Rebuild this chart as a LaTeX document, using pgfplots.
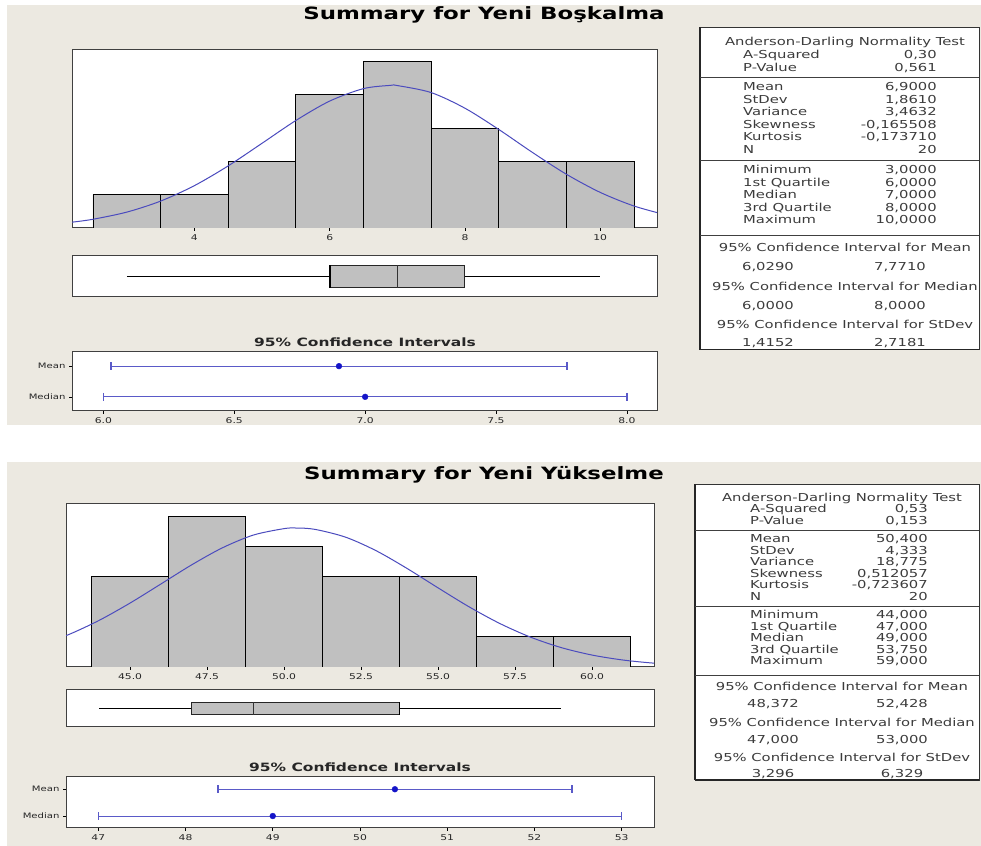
\documentclass[border=0pt]{standalone}
\usepackage{pgfplots}
\pgfplotsset{compat=1.18}
\usepackage{fontspec}
\setmainfont{DejaVu Sans}[FakeStretch=1.35]
\definecolor{bg}{RGB}{236,233,225}
\definecolor{bargray}{RGB}{192,192,192}
\definecolor{curveblue}{RGB}{75,75,190}
\definecolor{ciline}{RGB}{90,90,200}
\definecolor{dotblue}{RGB}{20,20,200}
\definecolor{tabtext}{RGB}{60,60,60}
\pgfplotsset{mtb/.style={scale only axis, axis background/.style={fill=white},
  axis line style={black!75,line width=1bp}, tick align=outside,
  major tick length=3bp, tick style={black,line width=0.6bp},
  /pgf/number format/assume math mode=true,
  tick label style={font=\fontsize{8}{9}\selectfont, text=black!85},
  xtick pos=left, ytick pos=left, clip=true}}
\newcommand\tfont{\fontsize{11}{12}\selectfont\color{tabtext}}
\begin{document}
\begin{tikzpicture}[x=1bp,y=1bp]
\useasboundingbox (0,0) rectangle (981,846);
\fill[white] (0,0) rectangle (981,846);
\fill[bg] (7,421) rectangle (981,841);
\fill[bg] (7,0) rectangle (981,384);
% titles
\node[font=\bfseries\fontsize{17}{20}\selectfont] at (484,831) {Summary for Yeni Boşkalma};
\node[font=\bfseries\fontsize{17}{20}\selectfont] at (484,371) {Summary for Yeni Yükselme};
\node[font=\bfseries\fontsize{11.5}{13}\selectfont, text=black!85] at (365,504) {95\% Confidence Intervals};
\node[font=\bfseries\fontsize{11.5}{13}\selectfont, text=black!85] at (360,79) {95\% Confidence Intervals};

% ---------- TOP PANEL ----------
\begin{axis}[mtb, at={(72bp,618bp)}, anchor=south west, width=585bp, height=178bp,
  xmin=2.19, xmax=10.84, ymin=0, ymax=5.35, ytick=\empty,
  xtick={4,6,8,10}, xticklabels={4,6,8,10}]
\addplot[ybar interval, fill=bargray, draw=black, line width=0.9bp] coordinates {
(2.5,1) (3.5,1) (4.5,2) (5.5,4) (6.5,5) (7.5,3) (8.5,2) (9.5,2) (10.5,2)};
\addplot[smooth, curveblue, line width=1bp] coordinates {
(2.0,0.134) (2.2,0.177) (2.5,0.262) (3.0,0.477) (3.5,0.808) (4.0,1.273) (4.5,1.867)
(5.0,2.546) (5.5,3.231) (6.0,3.814) (6.5,4.189) (6.9,4.287) (7.0,4.281) (7.5,4.070)
(8.0,3.600) (8.5,2.962) (9.0,2.268) (9.5,1.615) (10.0,1.070) (10.5,0.660) (11.0,0.379)};
\end{axis}

\begin{axis}[mtb, at={(72bp,549bp)}, anchor=south west, width=585bp, height=41bp,
  xmin=2.19, xmax=10.84, ymin=0, ymax=1, xtick=\empty, ytick=\empty]
\addplot[black, line width=1.6bp] coordinates {(3,0.5) (6,0.5)};
\addplot[black, line width=1.6bp] coordinates {(8,0.5) (10,0.5)};
\addplot[fill=bargray, draw=black!85, line width=0.9bp] coordinates {(6,0.23) (8,0.23) (8,0.77) (6,0.77) (6,0.23)};
\addplot[black, line width=1.8bp] coordinates {(6,0.23) (6,0.77)};
\addplot[black!80, line width=0.8bp] coordinates {(7,0.23) (7,0.77)};
\end{axis}

\begin{axis}[mtb, at={(72bp,435bp)}, anchor=south west, width=585bp, height=59bp,
  xmin=5.88, xmax=8.115, ymin=0, ymax=1,
  xtick={6,6.5,7,7.5,8}, xticklabels={6.0,6.5,7.0,7.5,8.0},
  ytick={0.24,0.76}, yticklabels={Median,Mean},
  yticklabel style={font=\fontsize{7.5}{8}\selectfont}]
\addplot[ciline, line width=0.9bp, mark=|, mark size=4bp, mark options={line width=1.4bp}] coordinates {(6.029,0.76) (7.771,0.76)};
\addplot[ciline, line width=0.9bp, mark=|, mark size=4bp, mark options={line width=1.4bp}] coordinates {(6.0,0.24) (8.0,0.24)};
\addplot[only marks, mark=*, mark size=2.9bp, dotblue] coordinates {(6.9,0.76) (7.0,0.24)};
\end{axis}

% top table
\draw[black!80, line width=0.8bp, fill=white] (700,496.4) rectangle (979,819);
\draw[black!85, line width=1.6bp] (700,496.4) -- (700,819);
\draw[black!85, line width=1.2bp] (700,496.4) -- (979,496.4);
\foreach \yy in {768.9,686,610.8} \draw[black!75, line width=0.8bp] (700,\yy) -- (979,\yy);
\begin{scope}[every node/.style={font=\tfont, inner sep=0pt}]
\node at (845,803.7) {Anderson-Darling Normality Test};
\def\lx{743}\def\rx{937}
\foreach \yy/\la/\va in {790.7/A-Squared/{0,30}, 777.6/P-Value/{0,561},
  758/Mean/{6,9000}, 745.4/StDev/{1,8610}, 732.9/Variance/{3,4632},
  720.4/Skewness/{-0,165508}, 707.8/Kurtosis/{-0,173710}, 695.3/N/{20},
  675.1/Minimum/{3,0000}, 662.6/1st Quartile/{6,0000}, 650/Median/{7,0000},
  637.5/3rd Quartile/{8,0000}, 625/Maximum/{10,0000}}
  {\node[anchor=mid west] at (\lx,\yy) {\la}; \node[anchor=mid east] at (\rx,\yy) {\va};}
\node at (845,598.8) {95\% Confidence Interval for Mean};
\node at (768,579.2) {6,0290}; \node at (900,579.2) {7,7710};
\node at (845,559.6) {95\% Confidence Interval for Median};
\node at (768,540) {6,0000}; \node at (900,540) {8,0000};
\node at (845,521.4) {95\% Confidence Interval for StDev};
\node at (768,502.9) {1,4152}; \node at (900,502.9) {2,7181};
\end{scope}

% ---------- BOTTOM PANEL ----------
\begin{axis}[mtb, at={(66bp,179bp)}, anchor=south west, width=588bp, height=163bp,
  xmin=42.92, xmax=62.01, ymin=0, ymax=5.4, ytick=\empty,
  xtick={45,47.5,50,52.5,55,57.5,60}, xticklabels={45.0,47.5,50.0,52.5,55.0,57.5,60.0}]
\addplot[ybar interval, fill=bargray, draw=black, line width=0.9bp] coordinates {
(43.75,3) (46.25,5) (48.75,4) (51.25,3) (53.75,3) (56.25,1) (58.75,1) (61.25,1)};
\addplot[smooth, curveblue, line width=1bp] coordinates {
(42,0.703) (43,1.071) (44,1.547) (45,2.118) (46,2.749) (47,3.384) (48,3.949) (49,4.370)
(50,4.584) (50.4,4.604) (51,4.560) (52,4.300) (53,3.846) (54,3.260) (55,2.621) (56,1.997)
(57,1.443) (58,0.989) (59,0.642) (60,0.395) (61,0.231) (62,0.128) (63,0.067)};
\end{axis}

\begin{axis}[mtb, at={(66bp,119bp)}, anchor=south west, width=588bp, height=37bp,
  xmin=42.92, xmax=62.01, ymin=0, ymax=1, xtick=\empty, ytick=\empty]
\addplot[black, line width=1.6bp] coordinates {(44,0.5) (47,0.5)};
\addplot[black, line width=1.6bp] coordinates {(53.75,0.5) (59,0.5)};
\addplot[fill=bargray, draw=black!85, line width=0.9bp] coordinates {(47,0.33) (53.75,0.33) (53.75,0.67) (47,0.67) (47,0.33)};
\addplot[black, line width=1.8bp] coordinates {(53.75,0.33) (53.75,0.67)};
\addplot[black!80, line width=0.8bp] coordinates {(49,0.33) (49,0.67)};
\end{axis}

\begin{axis}[mtb, at={(66bp,18bp)}, anchor=south west, width=588bp, height=51bp,
  xmin=46.63, xmax=53.37, ymin=0, ymax=1,
  xtick={47,48,49,50,51,52,53},
  ytick={0.235,0.76}, yticklabels={Median,Mean},
  yticklabel style={font=\fontsize{7.5}{8}\selectfont}]
\addplot[ciline, line width=0.9bp, mark=|, mark size=4bp, mark options={line width=1.4bp}] coordinates {(48.372,0.76) (52.428,0.76)};
\addplot[ciline, line width=0.9bp, mark=|, mark size=4bp, mark options={line width=1.4bp}] coordinates {(47,0.235) (53,0.235)};
\addplot[only marks, mark=*, mark size=2.9bp, dotblue] coordinates {(50.4,0.76) (49,0.235)};
\end{axis}

% bottom table
\draw[black!80, line width=0.8bp, fill=white] (695,66) rectangle (979,362);
\draw[black!85, line width=1.6bp] (695,66) -- (695,362);
\draw[black!85, line width=1.2bp] (695,66) -- (979,66);
\foreach \yy in {316,240,171} \draw[black!75, line width=0.8bp] (695,\yy) -- (979,\yy);
\begin{scope}[every node/.style={font=\tfont, inner sep=0pt}]
\node at (842,348) {Anderson-Darling Normality Test};
\def\lx{750}\def\rx{928}
\foreach \yy/\la/\va in {336/A-Squared/{0,53}, 324/P-Value/{0,153},
  306/Mean/{50,400}, 294.5/StDev/{4,333}, 283/Variance/{18,775},
  271.5/Skewness/{0,512057}, 260/Kurtosis/{-0,723607}, 248.5/N/{20},
  230/Minimum/{44,000}, 218.5/1st Quartile/{47,000}, 207/Median/{49,000},
  195.5/3rd Quartile/{53,750}, 184/Maximum/{59,000}}
  {\node[anchor=mid west] at (\lx,\yy) {\la}; \node[anchor=mid east] at (\rx,\yy) {\va};}
\node at (842,160) {95\% Confidence Interval for Mean};
\node at (773,142) {48,372}; \node at (902,142) {52,428};
\node at (842,124) {95\% Confidence Interval for Median};
\node at (773,106) {47,000}; \node at (902,106) {53,000};
\node at (842,89) {95\% Confidence Interval for StDev};
\node at (773,72) {3,296}; \node at (902,72) {6,329};
\end{scope}
\end{tikzpicture}
\end{document}
